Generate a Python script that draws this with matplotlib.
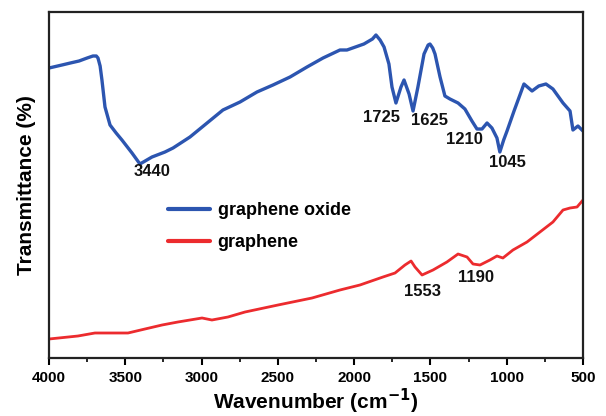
import matplotlib
matplotlib.use("Agg")
import matplotlib.pyplot as plt
from matplotlib.ticker import MultipleLocator

plt.rcParams['font.family'] = ['Liberation Sans', 'DejaVu Sans']

# Graphene oxide spectrum (wavenumber, transmittance a.u.)
go_wn = [4000, 3915, 3860, 3803, 3750, 3712, 3690, 3679, 3665, 3653, 3633, 3600,
         3560, 3522, 3456, 3404, 3370, 3325, 3240, 3187, 3076, 2964, 2860, 2748,
         2637, 2532, 2420, 2309, 2204, 2093, 2047, 1936, 1880, 1857, 1830, 1804,
         1772, 1752, 1726, 1693, 1673, 1640, 1614, 1582, 1542, 1515, 1503, 1485,
         1470, 1437, 1405, 1372, 1319, 1274, 1228, 1195, 1162, 1129, 1097, 1064,
         1045, 1020, 998, 952, 887, 834, 790, 743, 697, 631, 585, 566, 533, 500]
go_t = [290, 293, 295, 297, 300, 302, 302, 300, 292, 278, 251, 233,
        225, 218, 205, 194, 197, 201, 206, 210, 221, 235, 248, 256,
        266, 273, 281, 291, 300, 308, 308, 314, 319, 323, 318, 311,
        294, 271, 255, 271, 278, 264, 247, 271, 304, 313, 314, 310,
        304, 281, 262, 259, 255, 249, 237, 229, 229, 235, 230, 220,
        206, 218, 227, 247, 274, 267, 272, 274, 269, 255, 247, 228, 232, 227]

# Graphene spectrum
g_wn = [4000, 3810, 3699, 3482, 3371, 3259, 3155, 2997, 2932, 2827, 2715, 2499,
        2276, 2093, 1962, 1811, 1732, 1667, 1627, 1601, 1555, 1483, 1392, 1319,
        1260, 1221, 1175, 1110, 1064, 1025, 959, 867, 782, 697, 631, 585, 539, 500]
g_t = [19, 22, 25, 25, 29, 33, 36, 40, 38, 41, 46, 53,
       60, 68, 73, 81, 85, 93, 97, 91, 83, 88, 96, 104,
       101, 94, 93, 98, 102, 100, 108, 116, 126, 136, 148, 150, 151, 158]

labels = ["graphene oxide", "graphene"]
x_ticks = [4000, 3500, 3000, 2500, 2000, 1500, 1000, 500]

# peak annotations: (text, wavenumber, transmittance)
ann_text = ["3440", "1725", "1625", "1210", "1045", "1553", "1190"]
ann_wn = [3325, 1818, 1503, 1274, 998, 1555, 1202]
ann_t = [186, 240, 237, 218, 195, 67, 80]

fig = plt.figure(figsize=(6.06, 4.16), dpi=100)
ax = fig.add_axes([49/606, 58/416, 534/606, 346/416])

ax.plot(go_wn, go_t, color='#2c55b0', lw=2.4, label=labels[0],
        solid_joinstyle='round', solid_capstyle='round')
ax.plot(g_wn, g_t, color='#ec2b2e', lw=2.0, label=labels[1],
        solid_joinstyle='round', solid_capstyle='round')

ax.set_xlim(4000, 500)
ax.set_ylim(0, 346)
ax.set_xticks(x_ticks)
ax.xaxis.set_minor_locator(MultipleLocator(250))
ax.set_yticks([])
ax.tick_params(axis='x', which='major', direction='out', length=5, width=1.5, labelsize=11, pad=4)
ax.tick_params(axis='x', which='minor', direction='out', length=3, width=1.2)
for lab in ax.get_xticklabels():
    lab.set_fontweight('bold')
for s in ax.spines.values():
    s.set_linewidth(1.6)
    s.set_color('#222222')

ax.set_xlabel(r"Wavenumber (cm$^{\mathbf{-1}}$)", fontsize=15, fontweight='bold', labelpad=2)
ax.set_ylabel("Transmittance (%)", fontsize=15, fontweight='bold', labelpad=9)

for t, x, y in zip(ann_text, ann_wn, ann_t):
    ax.text(x, y, t, fontsize=12, fontweight='bold', ha='center', va='center', color='#111111')

leg = ax.legend(loc='center left', bbox_to_anchor=(0.223, 0.38), frameon=False,
                borderpad=0, borderaxespad=0, handlelength=2.3, handletextpad=0.45,
                labelspacing=0.85, prop={'size': 13, 'weight': 'bold'})
for h in leg.get_lines():
    h.set_linewidth(3)

fig.savefig("out.png", dpi=100)
